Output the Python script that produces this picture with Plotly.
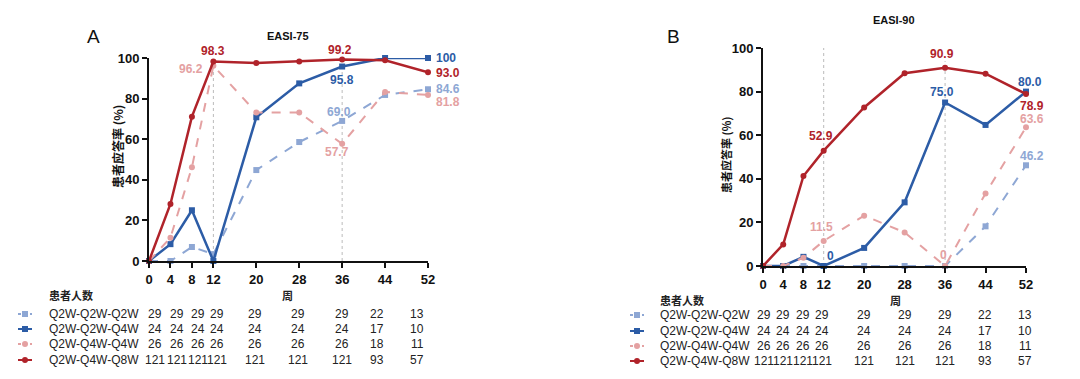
import plotly.graph_objects as go

W, H = 1080, 379
OFF = 8  # page body margin of the browser

weeks = [0, 4, 8, 12, 20, 28, 36, 44, 52]
series_names = ["Q2W-Q2W-Q2W", "Q2W-Q2W-Q4W", "Q2W-Q4W-Q4W", "Q2W-Q4W-Q8W"]

# EASI-75 (%)
a_q2q2q2 = [0, 0, 6.9, 3.4, 44.8, 58.6, 69.0, 81.8, 84.6]
a_q2q2q4 = [0, 8.3, 25.0, 0, 70.8, 87.5, 95.8, 100, 100]
a_q2q4q4 = [0, 11.5, 46.2, 96.2, 73.1, 73.1, 57.7, 83.3, 81.8]
a_q2q4q8 = [0, 28.1, 71.1, 98.3, 97.5, 98.3, 99.2, 98.9, 93.0]

# EASI-90 (%)
b_q2q2q2 = [0, 0, 0, 0, 0, 0, 0, 18.2, 46.2]
b_q2q2q4 = [0, 0, 4.2, 0, 8.3, 29.2, 75.0, 64.7, 80.0]
b_q2q4q4 = [0, 0, 3.8, 11.5, 23.1, 15.4, 0, 33.3, 63.6]
b_q2q4q8 = [0, 9.9, 41.3, 52.9, 72.7, 88.4, 90.9, 88.2, 78.9]

# patients per visit
n_q2q2q2 = [29, 29, 29, 29, 29, 29, 29, 22, 13]
n_q2q2q4 = [24, 24, 24, 24, 24, 24, 24, 17, 10]
n_q2q4q4 = [26, 26, 26, 26, 26, 26, 26, 18, 11]
n_q2q4q8 = [121, 121, 121, 121, 121, 121, 121, 93, 57]

y_ticks = [0, 20, 40, 60, 80, 100]
ref_weeks = [12, 36]

# styles
colors = ["#8EA7D4", "#2C5CA6", "#E4A1A2", "#B0232A"]
dashes = ["dash", "solid", "dash", "solid"]
symbols = ["square", "square", "circle", "circle"]
widths = [2, 2.5, 2, 2.5]

FONT = "Liberation Sans, Arial, Noto Sans CJK SC, sans-serif"
CJK = "Noto Sans CJK SC, Liberation Sans, sans-serif"

def px_x(x):
    return (x - OFF) / W

def px_y(y):
    return 1 - (y - OFF) / H

fig = go.Figure()

panels = [
    ("x", "y", [a_q2q2q2, a_q2q2q4, a_q2q4q4, a_q2q4q8]),
    ("x2", "y2", [b_q2q2q2, b_q2q2q4, b_q2q4q4, b_q2q4q8]),
]
for xa, ya, data in panels:
    for i, vals in enumerate(data):
        fig.add_trace(go.Scatter(
            x=weeks, y=vals, xaxis=xa, yaxis=ya, mode="lines+markers",
            name=series_names[i], showlegend=False, cliponaxis=False,
            line=dict(color=colors[i], width=widths[i], dash=dashes[i]),
            marker=dict(color=colors[i], size=6, symbol=symbols[i]),
        ))

axis_common = dict(
    showgrid=False, zeroline=False, showline=True, linecolor="#111", linewidth=2,
    ticks="outside", ticklen=5, tickwidth=2, tickcolor="#111", automargin=False,
    tickfont=dict(family=FONT, size=13, color="#111", weight="bold"),
)

fig.update_layout(
    width=W, height=H, paper_bgcolor="white", plot_bgcolor="white",
    margin=dict(l=0, r=0, t=0, b=0, pad=0, autoexpand=False),
    xaxis=dict(domain=[px_x(149), px_x(428)], range=[0, 52], tickvals=weeks,
               anchor="y", **axis_common),
    yaxis=dict(domain=[px_y(261), px_y(58)], range=[0, 100], tickvals=y_ticks,
               anchor="x", **axis_common),
    xaxis2=dict(domain=[px_x(763), px_x(1026)], range=[0, 52], tickvals=weeks,
                anchor="y2", **axis_common),
    yaxis2=dict(domain=[px_y(266), px_y(48)], range=[0, 100], tickvals=y_ticks,
                anchor="x2", **axis_common),
)

# reference dotted lines
for xr, yr, tops in [("x", "y", [96, 96]), ("x2", "y2", [100, 94])]:
    for w, top in zip(ref_weeks, tops):
        fig.add_shape(type="line", xref=xr, yref=yr, x0=w, x1=w, y0=0, y1=top,
                      line=dict(color="#BBBBBB", width=1, dash="dot"), layer="below")

ann = []

def lab(text, xr, yr, x, y, color, xs=0, ys=0, xanchor="center"):
    ann.append(dict(text=text, xref=xr, yref=yr, x=x, y=y, xshift=xs, yshift=ys,
                    xanchor=xanchor, yanchor="middle", showarrow=False,
                    font=dict(family=FONT, size=12, color=color, weight="bold")))

C_LB, C_DB, C_LP, C_DR = colors
# panel A labels
lab("98.3", "x", "y", 12, a_q2q4q8[3], C_DR, ys=10)
lab("96.2", "x", "y", 12, a_q2q4q4[3], C_LP, xs=-8, ys=-3, xanchor="right")
lab("99.2", "x", "y", 36, a_q2q4q8[6], C_DR, xs=-2, ys=10)
lab("95.8", "x", "y", 36, a_q2q2q4[6], C_DB, ys=-13)
lab("69.0", "x", "y", 36, a_q2q2q2[6], C_LB, xs=-3, ys=9)
lab("57.7", "x", "y", 36, a_q2q4q4[6], C_LP, xs=-5, ys=-8)
lab("100", "x", "y", 52, a_q2q2q4[8], C_DB, xs=6, xanchor="left")
lab("93.0", "x", "y", 52, a_q2q4q8[8], C_DR, xs=6, ys=-1, xanchor="left")
lab("84.6", "x", "y", 52, a_q2q2q2[8], C_LB, xs=6, xanchor="left")
lab("81.8", "x", "y", 52, a_q2q4q4[8], C_LP, xs=6, ys=-7, xanchor="left")
# panel B labels
lab("90.9", "x2", "y2", 36, b_q2q4q8[6], C_DR, xs=-3, ys=14)
lab("75.0", "x2", "y2", 36, b_q2q2q4[6], C_DB, xs=-3, ys=11)
lab("80.0", "x2", "y2", 52, b_q2q2q4[8], C_DB, xs=4, ys=10)
lab("78.9", "x2", "y2", 52, b_q2q4q8[8], C_DR, xs=6, ys=-12)
lab("63.6", "x2", "y2", 52, b_q2q4q4[8], C_LP, xs=6, ys=8)
lab("46.2", "x2", "y2", 52, b_q2q2q2[8], C_LB, xs=6, ys=9)
lab("52.9", "x2", "y2", 12, b_q2q4q8[3], C_DR, xs=-3, ys=15)
lab("11.5", "x2", "y2", 12, b_q2q4q4[3], C_LP, xs=-2, ys=14)
lab("0", "x2", "y2", 12, b_q2q2q4[3], C_DB, xs=7, ys=10)
lab("0", "x2", "y2", 36, b_q2q4q4[6], C_LP, xs=-2, ys=11)

def txt(text, x, y, size=12, color="#222", bold=False, xanchor="center", family=FONT, **kw):
    ann.append(dict(text=text, xref="paper", yref="paper", x=px_x(x), y=px_y(y),
                    xanchor=xanchor, yanchor="middle", showarrow=False,
                    font=dict(family=family, size=size, color=color,
                              weight="bold" if bold else "normal"), **kw))

# panel letters and titles
txt("A", 93, 37, size=19, color="#111")
txt("B", 673, 36, size=19, color="#111")
txt("EASI-75", 288, 36, size=11, color="#111", bold=True)
txt("EASI-90", 894, 20, size=11, color="#111", bold=True)
txt("患者应答率 (%)", 118, 147, size=12, color="#111", bold=True, family=CJK, textangle=-90)
txt("患者应答率 (%)", 726, 155, size=11, color="#111", bold=True, family=CJK, textangle=-90)

# tables
counts = [n_q2q2q2, n_q2q2q4, n_q2q4q4, n_q2q4q8]
tables = [
    dict(label_x=47, mark_x=25, head_y=295, week_y=295, week_x=287,
         rows_y=[314, 329, 344, 360],
         cols=[155, 177, 198, 217, 255, 298, 342, 377, 417]),
    dict(label_x=658, mark_x=637, head_y=300, week_y=300, week_x=895,
         rows_y=[315, 331, 346, 361],
         cols=[764, 783, 803, 822, 864, 905, 945, 985, 1025]),
]
for t in tables:
    txt("患者人数", t["label_x"], t["head_y"], size=11, color="#222", bold=True,
        xanchor="left", family=CJK)
    txt("周", t["week_x"], t["week_y"], size=11, color="#222", bold=True, family=CJK)
    for i, name in enumerate(series_names):
        ry = t["rows_y"][i]
        txt(name, t["label_x"], ry, size=12, color="#222", xanchor="left")
        for cx, n in zip(t["cols"], counts[i]):
            txt(str(n), cx, ry, size=12, color="#222")
        # legend mark
        mx = t["mark_x"]
        fig.add_shape(type="line", xref="paper", yref="paper",
                      x0=px_x(mx - 7), x1=px_x(mx + 7), y0=px_y(ry), y1=px_y(ry),
                      line=dict(color=colors[i], width=2, dash="dot" if dashes[i] == "dash" else "solid"))
        s = 3
        fig.add_shape(type="rect" if symbols[i] == "square" else "circle",
                      xref="paper", yref="paper",
                      x0=px_x(mx - s), x1=px_x(mx + s), y0=px_y(ry + s), y1=px_y(ry - s),
                      fillcolor=colors[i], line=dict(width=0))

fig.update_layout(annotations=ann)
fig.write_html("out.html")
